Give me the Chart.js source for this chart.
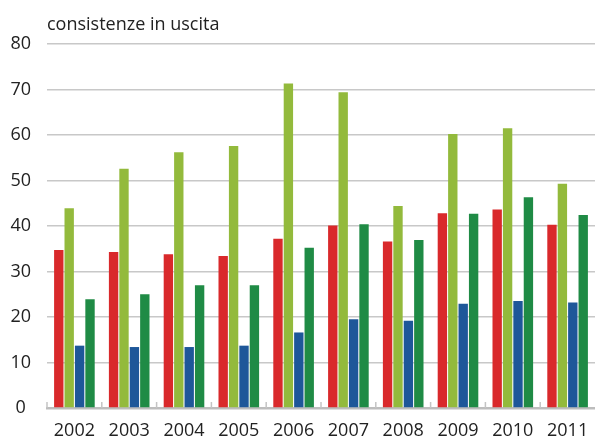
<!DOCTYPE html>
<html>
<head>
<meta charset="utf-8">
<script src="https://cdn.jsdelivr.net/npm/chart.js@4.4.0/dist/chart.umd.min.js"></script>
<style>
  html, body { margin: 0; padding: 0; background: #fff; }
  #wrap { width: 595px; height: 437px; }
</style>
</head>
<body>
<div id="wrap"><canvas id="grafico"></canvas></div>
<script>
// dati
var anni = ['2002', '2003', '2004', '2005', '2006', '2007', '2008', '2009', '2010', '2011'];
var serieRossa = [34.7, 34.3, 33.8, 33.4, 37.2, 40.1, 36.6, 42.8, 43.6, 40.3];
var serieVerdeChiaro = [43.9, 52.6, 56.2, 57.6, 71.3, 69.4, 44.4, 60.2, 61.5, 49.3];
var serieBlu = [13.7, 13.4, 13.4, 13.7, 16.6, 19.5, 19.2, 22.9, 23.5, 23.2];
var serieVerdeScuro = [23.9, 25.0, 27.0, 27.0, 35.2, 40.4, 36.9, 42.7, 46.3, 42.4];
var tickY = [0, 10, 20, 30, 40, 50, 60, 70, 80];

// piccoli tick verso l'alto sull'asse x, ai confini delle categorie
var tickConfini = {
    id: 'tickConfini',
    afterDraw: function (chart) {
        var ctx = chart.ctx;
        var x = chart.scales.x;
        var base = chart.chartArea.bottom;
        var passo = x.getPixelForValue(1) - x.getPixelForValue(0);
        ctx.save();
        ctx.strokeStyle = '#c4c4c4';
        ctx.lineWidth = 1.5;
        for (var i = 0; i < anni.length; i++) {
            var px = x.getPixelForValue(i) - passo / 2;
            ctx.beginPath();
            ctx.moveTo(px, base);
            ctx.lineTo(px, base - 6);
            ctx.stroke();
        }
        ctx.restore();
    }
};

var grafico = new Chart(document.getElementById('grafico').getContext('2d'), {
    type: 'bar',
    data: {
        labels: anni,
        datasets: [
            { data: serieRossa, backgroundColor: '#d9292b' },
            { data: serieVerdeChiaro, backgroundColor: '#93ba3c' },
            { data: serieBlu, backgroundColor: '#1e5799' },
            { data: serieVerdeScuro, backgroundColor: '#1f8b45' }
        ]
    },
    options: {
        responsive: true,
        maintainAspectRatio: false,
        animation: false,
        categoryPercentage: 0.76,
        barPercentage: 0.9,
        layout: { padding: { top: 0, right: 0, left: 0, bottom: 0 } },
        plugins: {
            legend: { display: false },
            tooltip: { enabled: false },
            title: {
                display: true,
                text: 'consistenze in uscita',
                align: 'start',
                fullSize: false,
                color: '#222',
                font: { family: 'Open Sans', size: 18, weight: 'normal' },
                padding: { top: 14, bottom: 8.4 }
            }
        },
        scales: {
            x: {
                grid: { display: false },
                border: { display: true, color: '#bdbdbd', width: 2.5 },
                ticks: {
                    color: '#222',
                    font: { family: 'Open Sans', size: 18 },
                    padding: 4,
                    maxRotation: 0
                },
                afterFit: function (scale) { scale.height = 29; }
            },
            y: {
                min: 0,
                max: 80,
                afterBuildTicks: function (scale) {
                    scale.ticks = tickY.map(function (v) { return { value: v }; });
                },
                grid: { color: '#c8c8c8', lineWidth: 1.5, drawTicks: false },
                border: { display: false },
                ticks: {
                    color: '#222',
                    font: { family: 'Open Sans', size: 18 },
                    crossAlign: 'center',
                    padding: 16
                },
                afterFit: function (scale) { scale.width = 47; }
            }
        }
    },
    plugins: [tickConfini]
});
</script>
</body>
</html>
